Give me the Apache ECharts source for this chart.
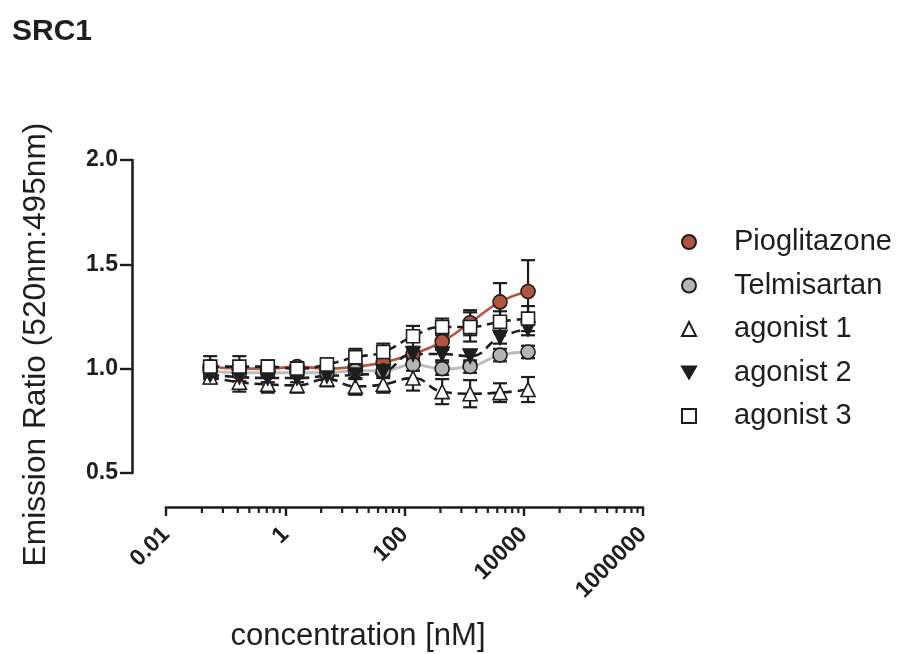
<!DOCTYPE html>
<html>
<head>
<meta charset="utf-8">
<script src="https://cdn.jsdelivr.net/npm/echarts@6/dist/echarts.min.js"></script>
<style>html,body{margin:0;padding:0;background:#fff;}#chart{width:904px;height:654px;}</style>
</head>
<body>
<div id="chart"></div>
<script>
// ---- data ----
const concentrations = [0.055, 0.17, 0.51, 1.58, 5.0, 15, 44, 139, 428, 1260, 4000, 11800];
const pioglitazone    = [1.01, 1.00, 1.00, 1.01, 1.00, 1.01, 1.03, 1.07, 1.13, 1.22, 1.32, 1.37];
const pioglitazoneErr = [0.02, 0.02, 0.02, 0.02, 0.02, 0.02, 0.03, 0.03, 0.04, 0.06, 0.09, 0.15];
const telmisartan     = [0.99, 0.98, 0.98, 0.98, 0.98, 0.99, 0.99, 1.02, 1.00, 1.01, 1.065, 1.08];
const telmisartanErr  = [0.02, 0.02, 0.02, 0.02, 0.02, 0.02, 0.02, 0.03, 0.03, 0.03, 0.03, 0.03];
const agonist1        = [0.96, 0.935, 0.925, 0.92, 0.95, 0.915, 0.925, 0.955, 0.89, 0.88, 0.885, 0.90];
const agonist1Err     = [0.03, 0.045, 0.04, 0.035, 0.035, 0.04, 0.04, 0.06, 0.06, 0.065, 0.045, 0.06];
const agonist2        = [0.97, 0.96, 0.955, 0.955, 0.965, 0.97, 0.985, 1.07, 1.07, 1.06, 1.15, 1.19];
const agonist2Err     = [0.02, 0.02, 0.02, 0.02, 0.02, 0.02, 0.03, 0.03, 0.03, 0.03, 0.03, 0.03];
const agonist3        = [1.01, 1.01, 1.01, 1.00, 1.02, 1.055, 1.08, 1.155, 1.20, 1.20, 1.225, 1.24];
const agonist3Err     = [0.05, 0.05, 0.03, 0.03, 0.03, 0.04, 0.04, 0.05, 0.04, 0.07, 0.05, 0.06];
const yTicks = [0.5, 1.0, 1.5, 2.0];
const xTickLabels = ['0.01', '1', '100', '10000', '1000000'];
// minor ticks of the base-100 log axis: major value x k^2, k = 2..9
const xMinorMajors = [0.01, 1, 100, 10000];
const xMinorFactors = [4, 9, 16, 25, 36, 49, 64, 81];

const seriesDefs = [
  {name: 'Pioglitazone', y: pioglitazone, err: pioglitazoneErr, symbol: 'circle', rotate: 0, fill: '#b4543d', line: '#b4543d', lineType: 'solid', lineWidth: 2.6},
  {name: 'Telmisartan', y: telmisartan, err: telmisartanErr, symbol: 'circle', rotate: 0, fill: '#b4b5b9', line: '#bcbdc0', lineType: 'solid', lineWidth: 3},
  {name: 'agonist 1', y: agonist1, err: agonist1Err, symbol: 'triangle', rotate: 0, fill: '#ffffff', line: '#1e1e1e', lineType: [9, 6], lineWidth: 2.6},
  {name: 'agonist 2', y: agonist2, err: agonist2Err, symbol: 'triangle', rotate: 180, fill: '#1e1e1e', line: '#1e1e1e', lineType: [9, 6], lineWidth: 2.6},
  {name: 'agonist 3', y: agonist3, err: agonist3Err, symbol: 'rect', rotate: 0, fill: '#ffffff', line: '#1e1e1e', lineType: [9, 6], lineWidth: 2.6}
];

const FONT = 'Arial, "Liberation Sans", Helvetica, sans-serif';
const INK = '#1e1e1e';
const AXIS_OFFSET = 34;

function errRender(params, api) {
  const x = api.value(0), y = api.value(1), e = api.value(2);
  const top = api.coord([x, y + e]);
  const bot = api.coord([x, y - e]);
  const w = 7;
  const st = {stroke: INK, lineWidth: 2.2};
  return {type: 'group', children: [
    {type: 'line', shape: {x1: top[0], y1: top[1], x2: bot[0], y2: bot[1]}, style: st},
    {type: 'line', shape: {x1: top[0] - w, y1: top[1], x2: top[0] + w, y2: top[1]}, style: st},
    {type: 'line', shape: {x1: bot[0] - w, y1: bot[1], x2: bot[0] + w, y2: bot[1]}, style: st}
  ]};
}

function minorTickRender(params, api) {
  const p = api.coord([api.value(0), api.value(1)]);
  const y0 = p[1] + AXIS_OFFSET;
  return {type: 'line', shape: {x1: p[0], y1: y0, x2: p[0], y2: y0 + 6}, style: {stroke: INK, lineWidth: 2.2}};
}

const minorTickData = [];
xMinorMajors.forEach(m => xMinorFactors.forEach(f => minorTickData.push([m * f, yTicks[0]])));

const series = [];
seriesDefs.forEach((d, i) => {
  series.push({
    name: d.name + ' fit', type: 'line', smooth: 0.5, symbol: 'none', z: 2 + i * 0.1,
    data: concentrations.map((c, k) => [c, d.y[k]]),
    lineStyle: {color: d.line, width: d.lineWidth, type: d.lineType},
    silent: true
  });
});
seriesDefs.forEach((d, i) => {
  series.push({
    name: d.name + ' err', type: 'custom', renderItem: errRender, z: 3 + i * 0.1,
    data: concentrations.map((c, k) => [c, d.y[k], d.err[k]]),
    encode: {x: 0, y: 1}, silent: true
  });
});
seriesDefs.forEach((d, i) => {
  series.push({
    name: d.name, type: 'scatter', symbol: d.symbol, symbolRotate: d.rotate,
    symbolSize: d.symbol === 'rect' ? 13 : 14, z: 4 + i * 0.1,
    data: concentrations.map((c, k) => [c, d.y[k]]),
    itemStyle: {color: d.fill, borderColor: INK, borderWidth: 1.6, opacity: 1}
  });
});
series.push({
  name: 'x minor ticks', type: 'custom', renderItem: minorTickRender, clip: false, silent: true, z: 1,
  data: minorTickData, encode: {x: 0, y: 1}
});

const legendIcons = {
  'Pioglitazone': 'circle', 'Telmisartan': 'circle', 'agonist 1': 'triangle',
  'agonist 2': 'path://M0,0L10,0L5,8.66Z', 'agonist 3': 'rect'
};

const chart = echarts.init(document.getElementById('chart'), null, {renderer: 'canvas'});
chart.setOption({
  backgroundColor: '#ffffff',
  animation: false,
  title: {text: 'SRC1', left: 7, top: 12, textStyle: {fontFamily: FONT, fontSize: 30, fontWeight: 'bold', color: INK}},
  legend: {
    orient: 'vertical', left: 676, top: 222, itemWidth: 14, itemHeight: 14, itemGap: 13.5,
    data: seriesDefs.map(d => ({name: d.name, icon: legendIcons[d.name]})),
    textStyle: {fontFamily: FONT, fontSize: 29, color: INK, padding: [0, 0, 0, 33], lineHeight: 30},
    selectedMode: false
  },
  grid: {left: 166, right: 261, top: 160, bottom: 181, containLabel: false},
  xAxis: {
    type: 'log', logBase: 10, min: 0.01, max: 1000000, interval: 2, offset: AXIS_OFFSET,
    name: 'concentration [nM]', nameLocation: 'middle', nameGap: 114,
    nameTextStyle: {fontFamily: FONT, fontSize: 31, color: INK, padding: [0, 93, 0, 0]},
    axisLine: {onZero: false, lineStyle: {color: INK, width: 2.6}},
    axisTick: {show: true, length: 9, lineStyle: {color: INK, width: 2.4}},
    minorTick: {show: false},
    splitLine: {show: false},
    axisLabel: {
      rotate: 45, margin: 24, fontFamily: FONT, fontSize: 23, fontWeight: 'bold', color: INK,
      formatter: function (v) {
        const s = String(+(+v).toPrecision(6));
        return xTickLabels.indexOf(s) >= 0 ? s : '';
      }
    }
  },
  yAxis: {
    type: 'value', min: 0.5, max: 2.0, interval: 0.5, offset: AXIS_OFFSET,
    name: 'Emission Ratio (520nm:495nm)', nameLocation: 'middle', nameGap: 80,
    nameTextStyle: {fontFamily: FONT, fontSize: 31.7, color: INK, padding: [0, 56, 0, 0]},
    axisLine: {show: true, lineStyle: {color: INK, width: 2.6}},
    axisTick: {show: true, length: 12, lineStyle: {color: INK, width: 2.4}},
    splitLine: {show: false},
    axisLabel: {
      margin: 14, fontFamily: FONT, fontSize: 23, fontWeight: 'bold', color: INK,
      formatter: function (v) { return yTicks.indexOf(+v) >= 0 ? (+v).toFixed(1) : ''; }
    }
  },
  series: series
});
</script>
</body>
</html>
